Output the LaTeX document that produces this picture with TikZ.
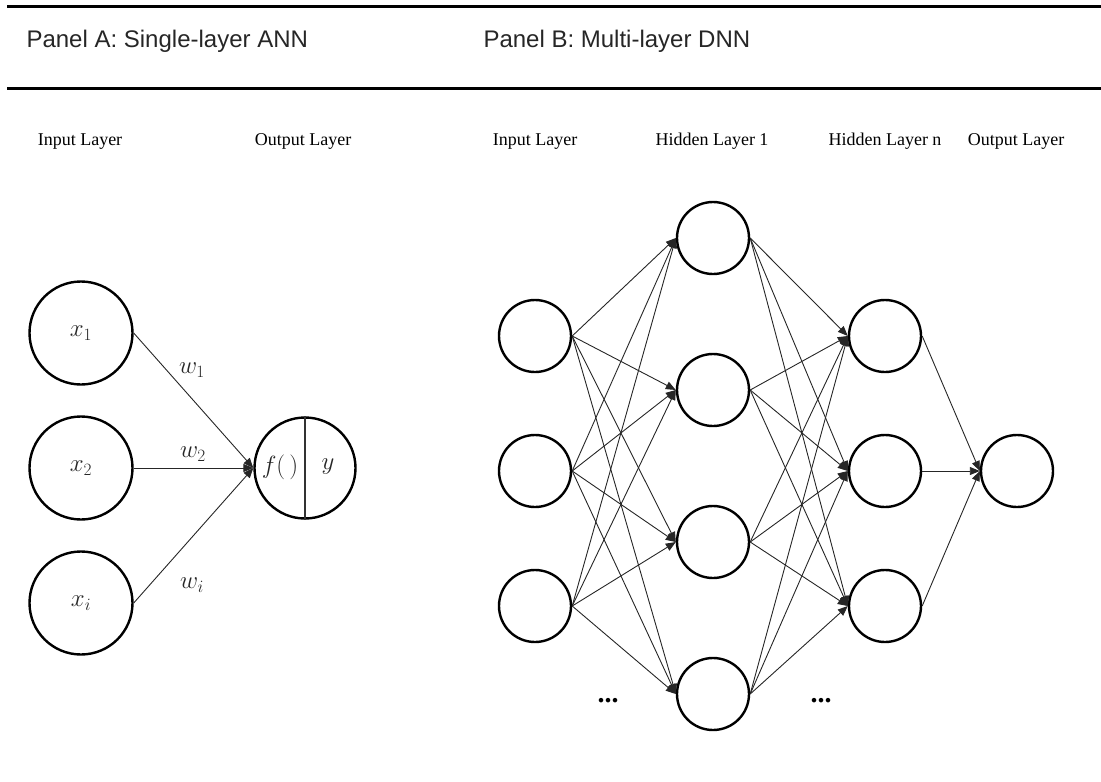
\documentclass[tikz,border=0pt]{standalone}
\usepackage[no-math]{fontspec}
\setmainfont{Liberation Serif}
\newfontfamily\panelfont{Liberation Sans}
\usetikzlibrary{arrows.meta}
\tikzset{
	neuron/.style={circle, draw, line width=2.4pt, inner sep=0pt},
	link/.style={-{Triangle[length=10pt,width=8pt]}, line width=0.9pt, draw=black!85},
	layer/.style={font=\fontsize{18}{20}\selectfont, anchor=base},
	panel/.style={font=\panelfont\fontsize{24}{28}\selectfont, anchor=base west, text=black!85},
	mathlbl/.style={font=\fontsize{26}{28}\selectfont, inner sep=0pt, text=black!85},
	rule/.style={line width=3pt}
}
\begin{document}
\begin{tikzpicture}[x=1pt, y=-1pt]
		\useasboundingbox (0,0) rectangle (1101,782);
		%rules and panel titles
			\draw[rule] (7,6) -- (1101,6);
			\draw[rule] (7,88.5) -- (1101,88.5);
			\node[panel] (pa) at (23,47) {Panel A: Single-layer ANN};
			\node[panel] (pb) at (480,47) {Panel B: Multi-layer DNN};
			
		%layer titles
			\node[layer] (ta1) at (80,145) {Input Layer};
			\node[layer] (ta2) at (303,145) {Output Layer};
			\node[layer] (tb1) at (535,145) {Input Layer};
			\node[layer] (tb2) at (712,145) {Hidden Layer 1};
			\node[layer] (tb3) at (885,145) {Hidden Layer n};
			\node[layer] (tb4) at (1016,145) {Output Layer};
			
		%panel A
			\foreach \i/\y/\s in {1/333/1, 2/468/2, 3/603/i}{
				\node[neuron, minimum size=103pt, font=\fontsize{26}{28}\selectfont, text=black!85] (x\i) at (81,\y) {$x_{\s}$};
			}
			\node[neuron, minimum size=101pt] (f) at (305,468) {};
			\draw[line width=1.4pt, black!80] (f.north) -- (f.south);
			\node[mathlbl] (fl) at (280,467) {$f(\,)$};
			\node[mathlbl] (yl) at (328,467) {$y$};
			\foreach \i in {1,2,3}{
				\draw[link] (x\i.east) -- (f.west);
			}
			\node[mathlbl] (w1) at (192,370) {$w_1$};
			\node[mathlbl] (w2) at (193,454) {$w_2$};
			\node[mathlbl] (w3) at (192,585) {$w_i$};
			
		%panel B
			\foreach \y [count=\i] in {336,471,606}{
				\node[neuron, minimum size=72pt] (in\i) at (535,\y) {};
				\node[neuron, minimum size=72pt] (hb\i) at (885,\y) {};
			}
			\foreach \y [count=\i] in {238,390,542,694}{
				\node[neuron, minimum size=72pt] (ha\i) at (713,\y) {};
			}
			\node[neuron, minimum size=72pt] (out) at (1017,471) {};
			
			\foreach \i in {1,2,3}{
				\foreach \j in {1,...,4}{
					\draw[link] (in\i.east) -- (ha\j.west);
					\draw[link] (ha\j.east) -- (hb\i.west);
				}
				\draw[link] (hb\i.east) -- (out.west);
			}
			\node[font=\fontsize{28}{30}\selectfont\bfseries, anchor=base] (dotsa) at (608,702) {...};
			\node[font=\fontsize{28}{30}\selectfont\bfseries, anchor=base] (dotsb) at (821,702) {...};
		\end{tikzpicture}
\end{document}
